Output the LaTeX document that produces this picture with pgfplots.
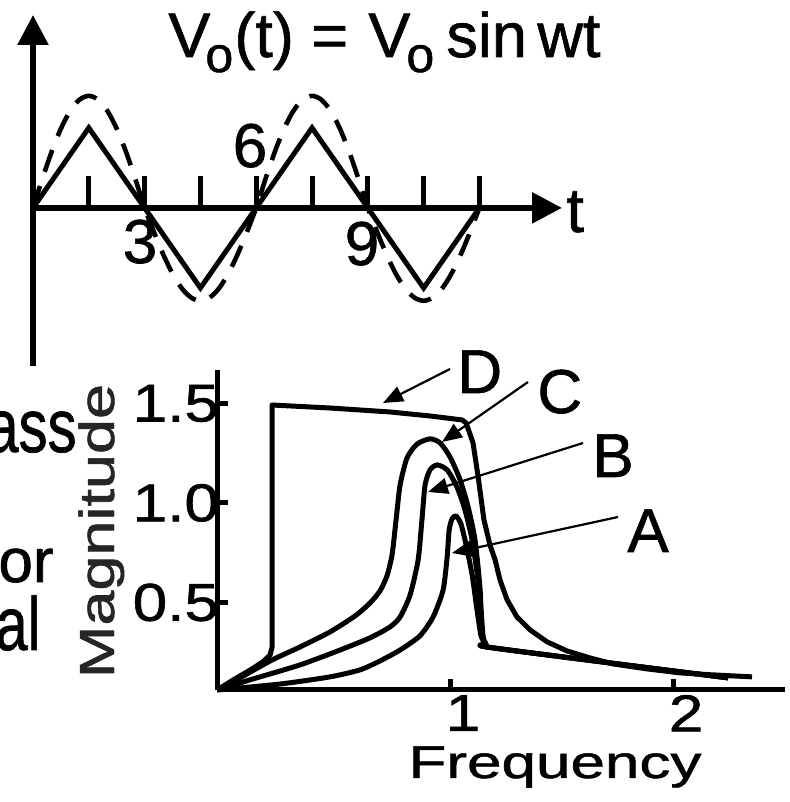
\documentclass[border=0pt]{standalone}
\usepackage{pgfplots}
\pgfplotsset{compat=1.18}
\usetikzlibrary{arrows.meta}
\usepackage{fontspec}
\setmainfont{Liberation Sans}[FakeBold=1.0]

\newcommand\fs[1]{\fontsize{#1}{#1}\selectfont}

\begin{document}
\begin{tikzpicture}
\useasboundingbox (0,0) rectangle (394.5pt,401pt);

% upper panel: input signal
\begin{axis}[
  at={(16.5pt,218pt)}, anchor=south west,
  scale only axis, width=264.5pt, height=175.5pt,
  xmin=0, xmax=14.22, ymin=-1.975, ymax=2.41,
  enlargelimits=false, clip=false,
  axis lines=middle,
  axis line style={line width=2.8pt, -{Triangle[length=15pt,width=15pt]}},
  xtick={1.5,3,...,12}, ytick=\empty, xticklabels={},
  tick align=inside, major tick length=16pt,
  tick style={line width=2.5pt, black},
]
\addplot[line width=2.5pt, line join=miter] coordinates {
  (0,0) (1.5,1) (3,0) (4.5,-1) (6,0) (7.5,1) (9,0) (10.5,-1) (12,0)
};
\addplot[line width=2.3pt, smooth, dash pattern=on 11.5pt off 7.5pt] coordinates {
  (0,0) (0.25,0.362) (0.5,0.700) (0.75,0.990) (1,1.212) (1.25,1.352) (1.5,1.400)
  (1.75,1.352) (2,1.212) (2.25,0.990) (2.5,0.700) (2.75,0.362) (3,0)
  (3.25,-0.300) (3.5,-0.580) (3.75,-0.820) (4,-1.005) (4.25,-1.120) (4.5,-1.160)
  (4.75,-1.120) (5,-1.005) (5.25,-0.820) (5.5,-0.580) (5.75,-0.300) (6,0)
  (6.25,0.362) (6.5,0.700) (6.75,0.990) (7,1.212) (7.25,1.352) (7.5,1.400)
  (7.75,1.352) (8,1.212) (8.25,0.990) (8.5,0.700) (8.75,0.362) (9,0)
  (9.25,-0.300) (9.5,-0.580) (9.75,-0.820) (10,-1.005) (10.25,-1.120) (10.5,-1.160)
  (10.75,-1.120) (11,-1.005) (11.25,-0.820) (11.5,-0.580) (11.75,-0.300) (12,0)
};
\end{axis}

% lower panel: frequency response
\begin{axis}[
  at={(108.5pt,56pt)}, anchor=south west,
  scale only axis, width=284pt, height=160pt,
  xmin=-0.045, xmax=2.502, ymin=0.06, ymax=1.668,
  enlargelimits=false, clip=false,
  axis x line*=bottom, axis y line*=left,
  axis line style={line width=2.5pt},
  xtick={1,2},
  xticklabels={\scalebox{1}[0.84]{1},\scalebox{1}[0.84]{2}},
  ytick={0.5,1,1.5},
  yticklabels={\scalebox{1}[0.86]{0.5},\scalebox{1}[0.86]{1.0},\scalebox{1}[0.86]{1.5}},
  tick align=inside, major tick length=5.5pt,
  tick style={line width=2.5pt, black},
  ticklabel style={font=\fs{31}},
  xticklabel style={xshift=6.5pt, yshift=1pt},
  yticklabel style={xshift=4.5pt},
]
% D
\addplot[line width=2.5pt, line join=round] coordinates {
  (-0.045,0.060) (0.036,0.116) (0.112,0.166) (0.166,0.206) (0.193,0.236) (0.202,0.276)
  (0.202,1.492) (0.462,1.477) (0.731,1.457) (0.910,1.437) (1.054,1.417) (1.072,1.402)
  (1.103,1.302) (1.126,1.131) (1.152,0.915) (1.179,0.789) (1.202,0.714) (1.224,0.613)
  (1.256,0.513) (1.300,0.427) (1.359,0.362) (1.435,0.302) (1.525,0.256) (1.628,0.221)
  (1.731,0.191) (1.883,0.166) (2.031,0.146) (2.179,0.136) (2.354,0.126)
};
% C
\addplot[line width=2.5pt, smooth, tension=0.4, line join=round] coordinates {
  (-0.045,0.060) (0.058,0.121) (0.202,0.211) (0.327,0.276) (0.462,0.352) (0.574,0.432)
  (0.641,0.497) (0.686,0.558) (0.717,0.633) (0.740,0.739) (0.758,0.915) (0.776,1.090)
  (0.807,1.226) (0.852,1.296) (0.910,1.322) (0.955,1.302) (1.000,1.231) (1.045,1.116)
  (1.081,0.980) (1.112,0.814) (1.135,0.563) (1.143,0.337) (1.161,0.291) (1.197,0.271)
  (2.247,0.121)
};
% B
\addplot[line width=2.5pt, smooth, tension=0.4, line join=round] coordinates {
  (-0.045,0.060) (0.103,0.111) (0.327,0.186) (0.507,0.261) (0.641,0.322) (0.731,0.377)
  (0.776,0.427) (0.821,0.538) (0.857,0.714) (0.874,0.915) (0.888,1.090) (0.910,1.166)
  (0.942,1.191) (0.987,1.166) (1.031,1.080) (1.067,0.965) (1.099,0.814) (1.121,0.648)
  (1.139,0.462) (1.148,0.332) (1.161,0.291) (1.197,0.271) (2.247,0.121)
};
% A
\addplot[line width=2.5pt, smooth, tension=0.4, line join=round] coordinates {
  (-0.045,0.060) (0.238,0.090) (0.462,0.126) (0.596,0.161) (0.686,0.206) (0.776,0.261)
  (0.865,0.332) (0.924,0.427) (0.969,0.563) (0.987,0.729) (0.996,0.864) (1.009,0.920)
  (1.027,0.935) (1.049,0.894) (1.072,0.789) (1.099,0.638) (1.121,0.462) (1.139,0.332)
  (1.161,0.291) (1.197,0.271) (2.247,0.121)
};
\end{axis}

% title and upper panel text
\begin{scope}[every node/.style={inner sep=0pt, anchor=base west}]
  \node at (84pt,372.5pt) {\fs{31.5}V};
  \node at (102.5pt,365pt) {\fs{25}o};
  \node at (117pt,372.5pt) {\fs{31.5}(t)};
  \node at (155.5pt,372.5pt) {\fs{31.5}=};
  \node at (184pt,372.5pt) {\fs{31.5}V};
  \node at (203pt,365pt) {\fs{25}o};
  \node at (223pt,372.5pt) {\fs{31.5}sin};
  \node at (268.5pt,372.5pt) {\fs{31.5}wt};
  \node at (283pt,285pt) {\fs{31.5}t};
  \node[anchor=base] at (70pt,269.5pt) {\fs{31}3};
  \node[anchor=base] at (125pt,317.5pt) {\fs{31}6};
  \node[anchor=base] at (181pt,268.5pt) {\fs{31}9};
  % curve names
  \node at (228.5pt,204.5pt) {\fs{31}D};
  \node at (268.5pt,194.5pt) {\fs{31}C};
  \node at (296pt,162.5pt) {\fs{31}B};
  \node at (313.5pt,125pt) {\fs{31}A};
  % axis titles
  \node[anchor=base] at (277.5pt,12pt) {\fs{31}\scalebox{1}[0.74]{Frequency}};
  \node[anchor=base, rotate=90, text=black!85] at (57pt,135.5pt) {\fs{31.5}\scalebox{1}[0.78]{Magnitude}};
  % cut-off words at the left edge
  \node[anchor=base east] at (38.5pt,175pt) {\fs{29}\scalebox{1}[1.3]{ass}};
  \node[anchor=base east] at (27pt,110pt) {\fs{31}or};
  \node[anchor=base east] at (20.5pt,76pt) {\fs{29}\scalebox{1}[1.3]{al}};
\end{scope}

% pointers to the curves
\begin{scope}[line width=1.1pt, -{Triangle[length=10pt,width=8pt]}]
  \draw (225pt,216.5pt) -- (191.5pt,199.5pt);
  \draw (264pt,210pt) -- (221pt,180pt);
  \draw (291.5pt,179.5pt) -- (214pt,155pt);
  \draw (309pt,142.5pt) -- (226pt,124.5pt);
\end{scope}
\end{tikzpicture}
\end{document}
